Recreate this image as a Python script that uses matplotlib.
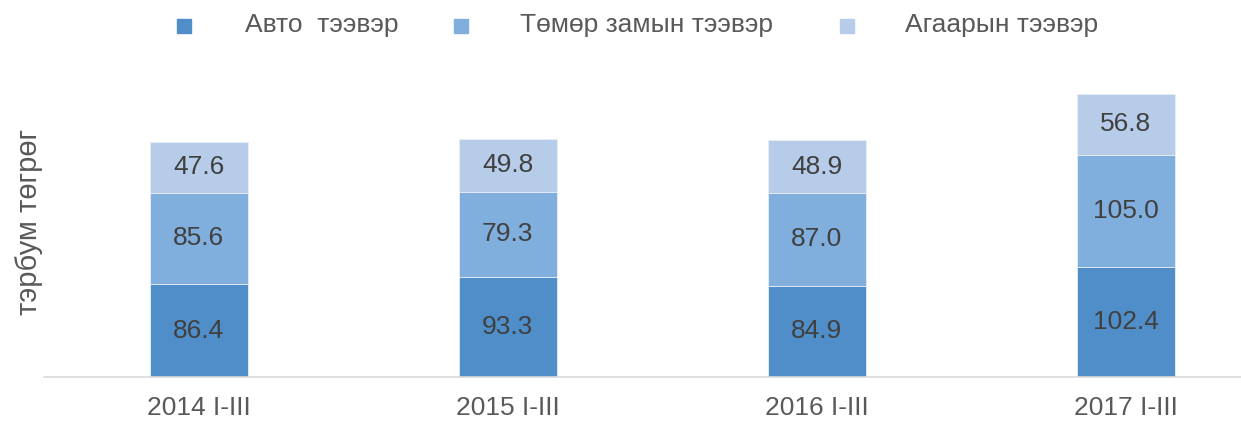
import matplotlib.pyplot as plt
from matplotlib.lines import Line2D

plt.rcParams['font.family'] = ['Liberation Sans', 'DejaVu Sans']

periods = ['2014 I-III', '2015 I-III', '2016 I-III', '2017 I-III']
auto = [86.4, 93.3, 84.9, 102.4]
rail = [85.6, 79.3, 87.0, 105.0]
air = [47.6, 49.8, 48.9, 56.8]
series_names = ['Авто  тээвэр', 'Төмөр замын тээвэр', 'Агаарын тээвэр']
colors = ['#4f8ec9', '#80aedd', '#b6cce9']

W, H = 1241, 421
fig = plt.figure(figsize=(W / 100, H / 100), dpi=100)
ax = fig.add_axes([44 / W, 44 / H, 1 - 44 / W, 317 / H])

x = range(len(periods))
bottom = [0] * len(periods)
for vals, col in zip([auto, rail, air], colors):
    bars = ax.bar(x, vals, width=0.317, bottom=bottom, color=col,
                  edgecolor='#e8eef7', linewidth=0.6)
    for b, v in zip(bars, vals):
        ax.text(b.get_x() + b.get_width() / 2, b.get_y() + b.get_height() / 2,
                f'{v:.1f}', ha='center', va='center', fontsize=19, color='#404040')
    bottom = [b + v for b, v in zip(bottom, vals)]

ax.set_xlim(-0.5, 3.372)
ax.set_ylim(0, 295.7)
ax.set_xticks(list(x))
ax.set_xticklabels(periods, fontsize=19, color='#595959')
ax.tick_params(axis='x', length=0, pad=14)
ax.set_yticks([])
for s in ['top', 'right', 'left']:
    ax.spines[s].set_visible(False)
ax.spines['bottom'].set_color('#d9d9d9')
ax.spines['bottom'].set_linewidth(1.2)

fig.text(29 / W, 1 - 222 / H, 'тэрбум төгрөг', rotation=90, ha='center', va='center',
         fontsize=21, color='#595959')

# legend laid out by hand to follow the reference spacing
marker_x = [184, 461, 847]
text_x = [245, 520, 905]
for mx, tx, name, col in zip(marker_x, text_x, series_names, colors):
    fig.add_artist(Line2D([mx / W], [1 - 26 / H], transform=fig.transFigure,
                          marker='s', markersize=9.5, linestyle='', color=col))
    fig.text(tx / W, 1 - 25 / H, name, ha='left', va='center', fontsize=19, color='#595959')

fig.savefig('out.png', dpi=100)
